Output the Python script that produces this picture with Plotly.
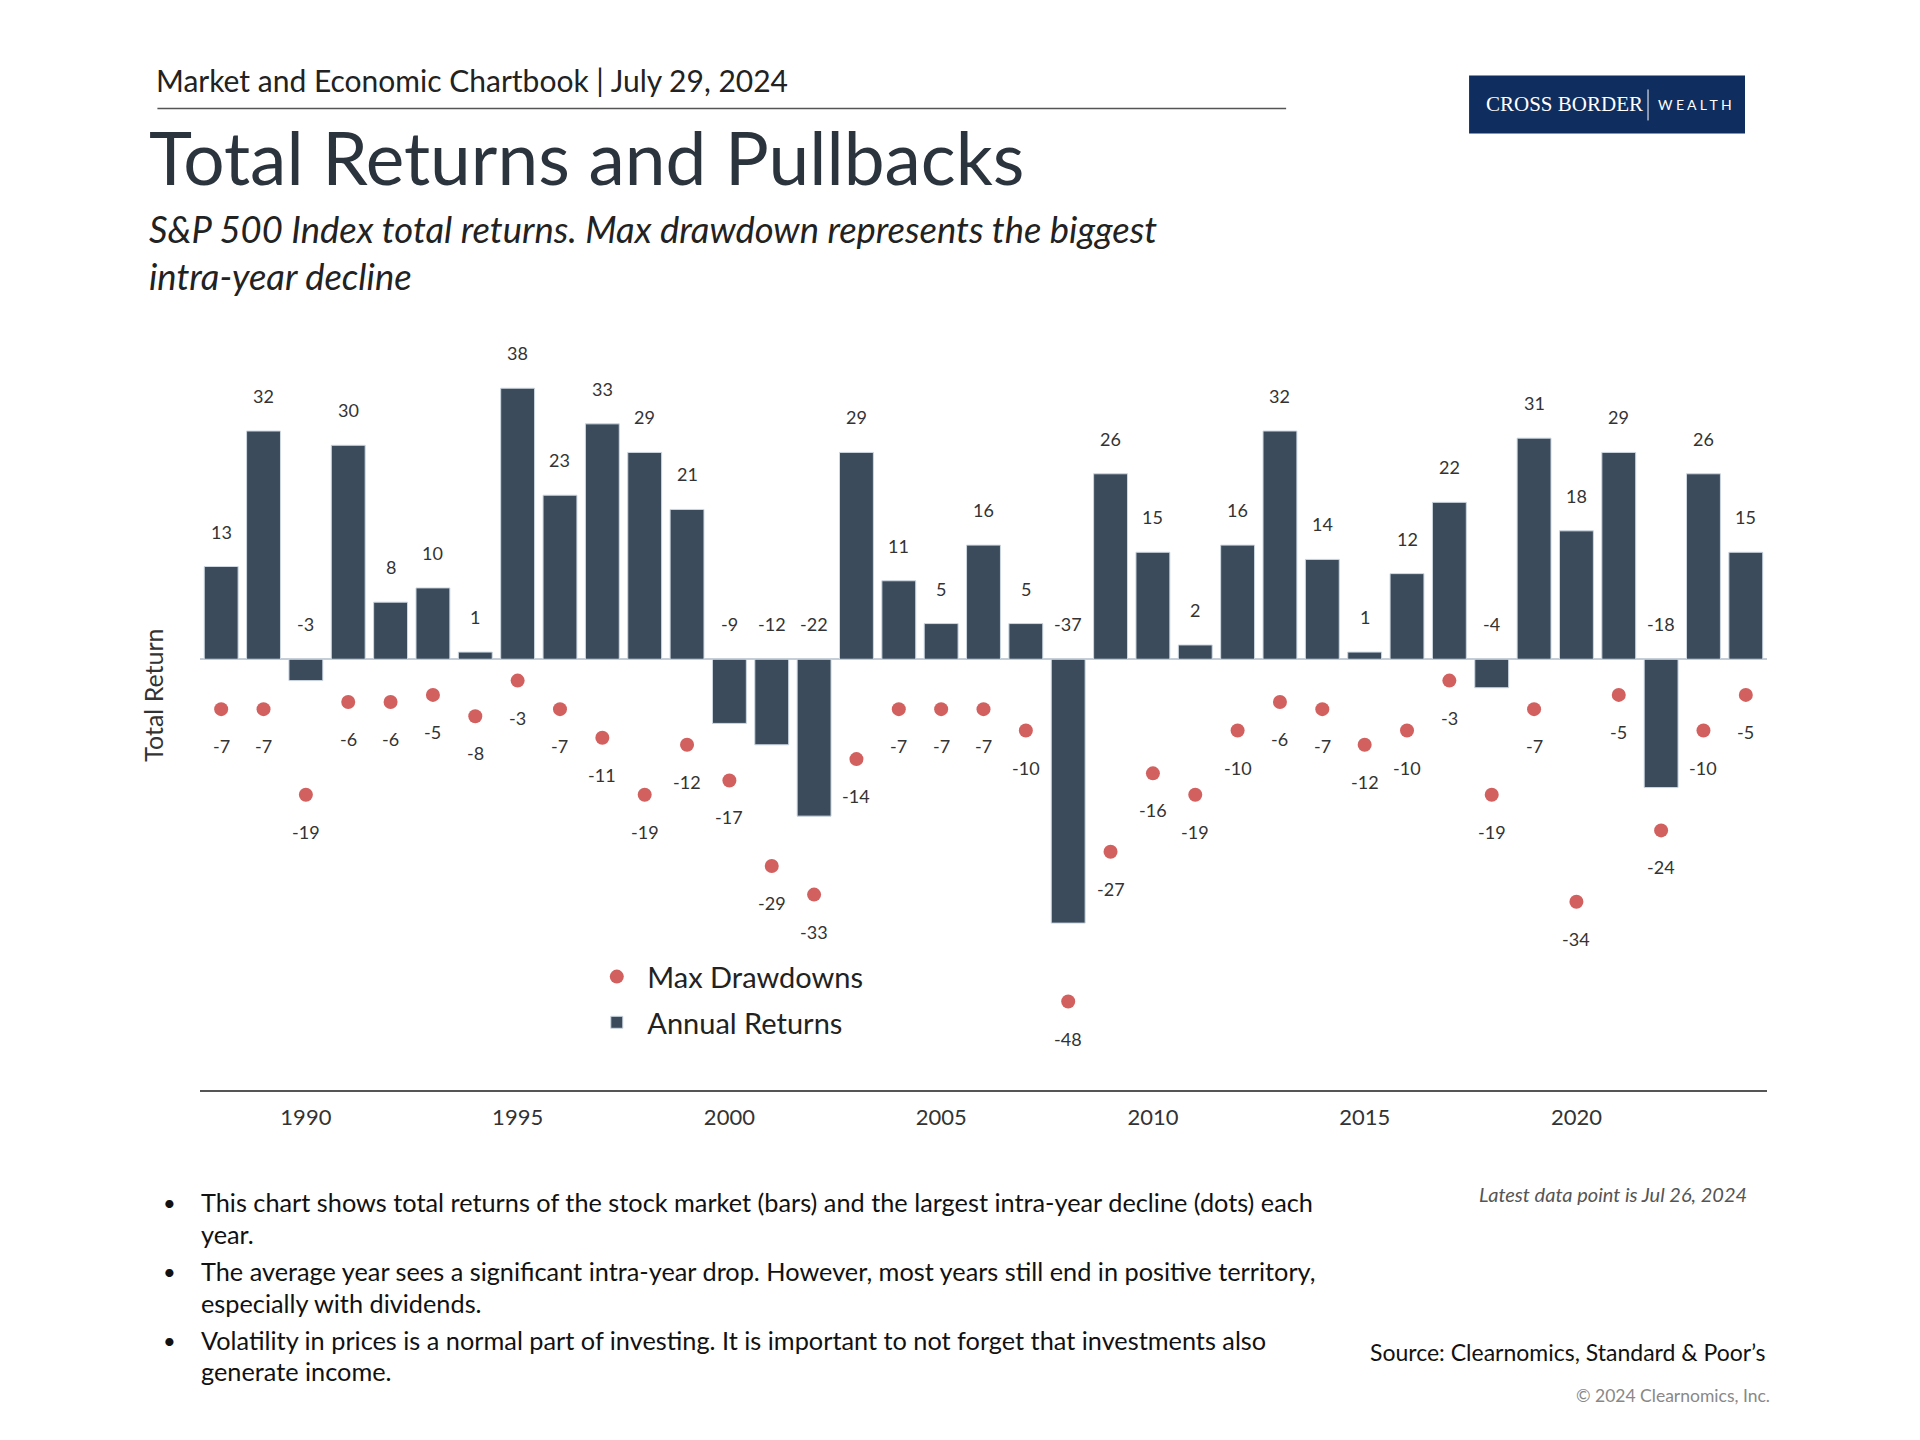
import plotly.graph_objects as go

years = list(range(1988, 2025))
annual_returns = [13, 32, -3, 30, 8, 10, 1, 38, 23, 33, 29, 21, -9, -12, -22, 29, 11, 5, 16, 5,
                  -37, 26, 15, 2, 16, 32, 14, 1, 12, 22, -4, 31, 18, 29, -18, 26, 15]
max_drawdowns = [-7, -7, -19, -6, -6, -5, -8, -3, -7, -11, -19, -12, -17, -29, -33, -14, -7, -7, -7, -10,
                 -48, -27, -16, -19, -10, -6, -7, -12, -10, -3, -19, -7, -34, -5, -24, -10, -5]
tick_years = [1990, 1995, 2000, 2005, 2010, 2015, 2020]

bullets = [
    ["This chart shows total returns of the stock market (bars) and the largest intra-year decline (dots) each", "year."],
    ["The average year sees a significant intra-year drop. However, most years still end in positive territory,", "especially with dividends."],
    ["Volatility in prices is a normal part of investing. It is important to not forget that investments also", "generate income."],
]

# page is rendered with an 8px body margin
OFF = 8
FW, FH = 1920 - 2 * OFF, 1440 - 2 * OFF
L, R = 199.6, 1767.0          # page coords
T, B = 338.6, 1089.8
PW, PH = R - L, B - T

def px(x):
    return (x - L) / PW

def py(y):
    return (B - y) / PH

FONT = "Lato"
BAR_COLOR = "#3b4b5b"
DOT_COLOR = "#d2605f"

fig = go.Figure()
fig.add_trace(go.Bar(
    x=years, y=annual_returns, width=0.8, name="Annual Returns",
    marker=dict(color=BAR_COLOR, line=dict(color="#cdd8e2", width=1)),
    legendrank=2, legendgroup="b", hoverinfo="x+y",
))
fig.add_trace(go.Scatter(
    x=years, y=max_drawdowns, mode="markers", name="Max Drawdowns",
    marker=dict(color=DOT_COLOR, size=14), legendrank=1, legendgroup="a", hoverinfo="x+y",
))

ann = []
for yr, v in zip(years, annual_returns):
    ann.append(dict(x=yr, y=max(v, 0), xref="x", yref="y", text=str(v), showarrow=False,
                    yshift=35, font=dict(family=FONT, size=18, color="#333333"),
                    xanchor="center", yanchor="middle"))
for yr, v in zip(years, max_drawdowns):
    ann.append(dict(x=yr, y=v, xref="x", yref="y", text=str(v), showarrow=False,
                    yshift=-37, font=dict(family=FONT, size=18, color="#333333"),
                    xanchor="center", yanchor="middle"))

# Y axis title
ann.append(dict(x=px(153), y=py(695), xref="paper", yref="paper", text="Total Return",
                textangle=-90, showarrow=False, font=dict(family=FONT, size=25, color="#333333"),
                xanchor="center", yanchor="middle"))

# Header
ann.append(dict(x=px(154), y=py(80), xref="paper", yref="paper",
                text="Market and Economic Chartbook | July 29, 2024", showarrow=False,
                font=dict(family=FONT, size=30, color="#222222"), xanchor="left", yanchor="middle"))
ann.append(dict(x=px(147), y=py(157), xref="paper", yref="paper",
                text="Total Returns and Pullbacks", showarrow=False,
                font=dict(family=FONT, size=73, color="#2b333d"), xanchor="left", yanchor="middle"))
ann.append(dict(x=px(147), y=py(252), xref="paper", yref="paper",
                text="<i>S&P 500 Index total returns. Max drawdown represents the biggest<br>intra-year decline</i>",
                showarrow=False, align="left",
                font=dict(family=FONT, size=36.4, color="#222222"), xanchor="left", yanchor="middle"))

# Logo
ann.append(dict(x=px(1484), y=py(104), xref="paper", yref="paper", text="CROSS BORDER",
                showarrow=False, font=dict(family="Liberation Serif", size=21, color="#ffffff"),
                xanchor="left", yanchor="middle"))
ann.append(dict(x=px(1656), y=py(104), xref="paper", yref="paper", text="W E A L T H",
                showarrow=False, font=dict(family=FONT, size=14, color="#ffffff"),
                xanchor="left", yanchor="middle"))

# Bullets
line_y = [(1202, 1234), (1271, 1303), (1340, 1371)]
for (l1, l2), (y1, y2) in zip(bullets, line_y):
    ann.append(dict(x=px(169), y=py(y1), xref="paper", yref="paper", text="•", showarrow=False,
                    font=dict(family=FONT, size=22, color="#111111"), xanchor="center", yanchor="middle"))
    ann.append(dict(x=px(199), y=py(y1), xref="paper", yref="paper", text=l1, showarrow=False,
                    font=dict(family=FONT, size=25.3, color="#111111"), xanchor="left", yanchor="middle"))
    ann.append(dict(x=px(199), y=py(y2), xref="paper", yref="paper", text=l2, showarrow=False,
                    font=dict(family=FONT, size=25.3, color="#111111"), xanchor="left", yanchor="middle"))

ann.append(dict(x=px(1749), y=py(1194), xref="paper", yref="paper",
                text="<i>Latest data point is Jul 26, 2024</i>", showarrow=False,
                font=dict(family=FONT, size=20, color="#555555"), xanchor="right", yanchor="middle"))
ann.append(dict(x=px(1768), y=py(1352), xref="paper", yref="paper",
                text="Source: Clearnomics, Standard &amp; Poor’s", showarrow=False,
                font=dict(family=FONT, size=23, color="#111111"), xanchor="right", yanchor="middle"))
ann.append(dict(x=px(1772), y=py(1395), xref="paper", yref="paper",
                text="© 2024 Clearnomics, Inc.", showarrow=False,
                font=dict(family=FONT, size=17.5, color="#888888"), xanchor="right", yanchor="middle"))

shapes = [
    dict(type="line", xref="paper", yref="paper", x0=px(157), x1=px(1286), y0=py(108), y1=py(108),
         line=dict(color="#555555", width=1.5)),
    dict(type="rect", xref="paper", yref="paper", x0=px(1469), x1=px(1745), y0=py(75), y1=py(133),
         fillcolor="#0f2d5e", line=dict(width=0)),
    dict(type="line", xref="paper", yref="paper", x0=px(1648), x1=px(1648), y0=py(89), y1=py(120),
         line=dict(color="#ffffff", width=1)),
]

fig.update_layout(
    width=FW, height=FH,
    margin=dict(l=L - OFF, r=(FW + OFF) - R, t=T - OFF, b=(FH + OFF) - B, pad=0, autoexpand=False),
    paper_bgcolor="white", plot_bgcolor="white",
    font=dict(family=FONT, color="#333333"),
    showlegend=True,
    legend=dict(x=px(586), y=py(951), xanchor="left", yanchor="top",
                traceorder="grouped", tracegroupgap=5, itemwidth=51,
                font=dict(family=FONT, size=29, color="#222222"), bgcolor="rgba(0,0,0,0)"),
    annotations=ann, shapes=shapes,
    bargap=0.2,
)
fig.update_xaxes(range=[1987.5, 2024.5], tickvals=tick_years, ticks="", showgrid=False,
                 showline=True, linecolor="#555555", linewidth=2, zeroline=False,
                 ticklabelstandoff=7,
                 tickfont=dict(family=FONT, size=22, color="#333333"), fixedrange=True)
fig.update_yaxes(range=[-60.4, 44.9], showticklabels=False, showgrid=False, showline=False,
                 zeroline=True, zerolinecolor="#c5ced6", zerolinewidth=1.5, fixedrange=True)

fig.write_html("out.html")
